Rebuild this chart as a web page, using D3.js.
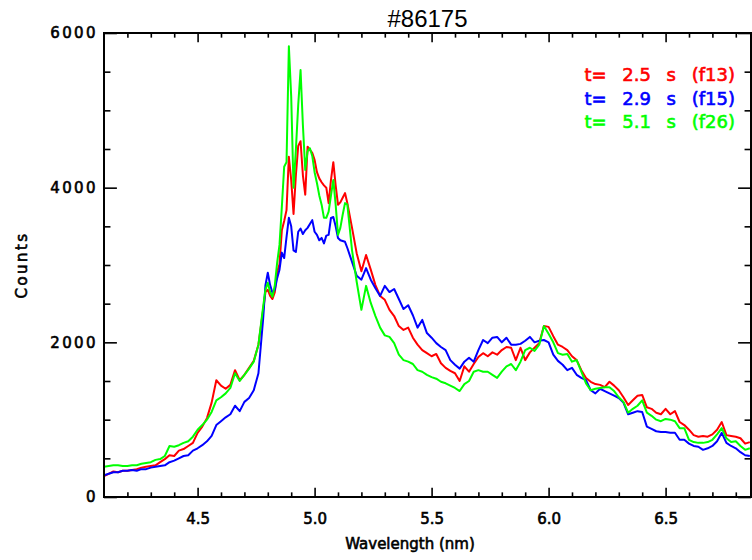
<!DOCTYPE html>
<html>
<head>
<meta charset="utf-8">
<script src="https://cdn.jsdelivr.net/npm/d3@7.9.0/dist/d3.min.js"></script>
<style>
  body { margin: 0; background: #fff; }
  text { fill: #000; }
</style>
</head>
<body>
<svg id="chart" width="752" height="560"></svg>
<script>
// wavelength grid (nm) - finer around the 4.8-5.1 nm peak
const wavelength = [
  4.10, 4.12, 4.14, 4.16, 4.18, 4.20, 4.22, 4.24, 4.26, 4.28,
  4.30, 4.32, 4.34, 4.36, 4.38, 4.40, 4.42, 4.44, 4.46, 4.48,
  4.50, 4.52, 4.54, 4.56, 4.58, 4.60, 4.62, 4.64, 4.66, 4.68,
  4.70, 4.72, 4.74, 4.76, 4.78,
  4.79, 4.80, 4.81, 4.82, 4.83, 4.84, 4.85, 4.86, 4.87, 4.88,
  4.89, 4.90, 4.91, 4.92, 4.93, 4.94, 4.95, 4.96, 4.97, 4.98,
  4.99, 5.00, 5.01, 5.02, 5.03, 5.04, 5.05, 5.06, 5.07, 5.08,
  5.09, 5.10, 5.11, 5.12, 5.13, 5.14,
  5.16, 5.18, 5.20, 5.22, 5.24, 5.26, 5.28, 5.30, 5.32, 5.34,
  5.36, 5.38, 5.40, 5.42, 5.44, 5.46, 5.48, 5.50, 5.52, 5.54,
  5.56, 5.58, 5.60, 5.62, 5.64, 5.66, 5.68, 5.70, 5.72, 5.74,
  5.76, 5.78, 5.80, 5.82, 5.84, 5.86, 5.88, 5.90, 5.92, 5.94,
  5.96, 5.98, 6.00, 6.02, 6.04, 6.06, 6.08, 6.10, 6.12, 6.14,
  6.16, 6.18, 6.20, 6.22, 6.24, 6.26, 6.28, 6.30, 6.32, 6.34,
  6.36, 6.38, 6.40, 6.42, 6.44, 6.46, 6.48, 6.50, 6.52, 6.54,
  6.56, 6.58, 6.60, 6.62, 6.64, 6.66, 6.68, 6.70, 6.72, 6.74,
  6.76, 6.78, 6.80, 6.82, 6.84, 6.86
];

// t = 2.5 s (f13)
const countsF13 = [
  270, 300, 330, 320, 340, 340, 350, 360, 380, 390,
  400, 410, 450, 490, 540, 530, 600, 620, 660, 700,
  830, 910, 1020, 1220, 1510, 1440, 1400, 1450, 1640, 1510,
  1580, 1670, 1760, 1970, 2420,
  2650, 2680, 2600, 2560, 2650, 2910, 3010, 3450, 3570, 3710,
  4400, 4100, 3660, 4160, 4540, 4600, 4160, 3910, 4530, 4490,
  4450, 4360, 4200, 4120, 4070, 4030, 4000, 3800, 4100, 4330,
  4030, 3780, 3810, 3870, 3930, 3800,
  3480, 3150, 2920, 3130, 2940, 2740, 2600, 2550, 2420, 2340,
  2210, 2160, 2190, 2060, 1970, 1900, 1860, 1820, 1850, 1730,
  1670, 1630, 1600, 1500, 1690, 1620, 1720, 1810, 1860, 1820,
  1870, 1840, 1900, 1940, 1930, 1770, 1930, 1770, 1870, 1930,
  1990, 2210, 2200, 2080, 1970, 1940, 1900, 1820, 1770, 1640,
  1540, 1490, 1460, 1450, 1420, 1490, 1440, 1380, 1290, 1190,
  1250, 1310, 1320, 1160, 1140, 1090, 1070, 1140, 1070, 1110,
  970, 930, 870, 800, 780, 790, 780, 810, 870, 970,
  800, 790, 780, 760, 690, 710
];

// t = 2.9 s (f15)
const countsF15 = [
  280, 300, 320, 320, 340, 340, 350, 340, 360, 360,
  380, 390, 400, 410, 450, 470, 500, 530, 540, 600,
  630, 670, 720, 790, 930, 980, 1030, 1070, 1180, 1110,
  1230, 1280, 1380, 1600, 2300,
  2740, 2900, 2740, 2640, 2680, 2830, 2940, 3160, 3090, 3360,
  3610, 3500, 3190, 3170, 3430, 3470, 3400, 3450, 3480, 3530,
  3580, 3430, 3390, 3320, 3350, 3280, 3380, 3390, 3610, 3620,
  3500, 3350, 3320, 3310, 3300, 3220,
  3040, 2860, 2810, 2960, 2810, 2700, 2600, 2730, 2650, 2690,
  2560, 2430, 2480, 2350, 2190, 2290, 2120, 2060, 1990, 1940,
  1900, 1770, 1710, 1660, 1750, 1800, 1750, 1900, 2030, 1990,
  2060, 2070, 2000, 2060, 1970, 1970, 1980, 2020, 2070, 2000,
  2020, 2030, 2000, 1840, 1760, 1710, 1640, 1670, 1580, 1540,
  1510, 1380, 1340, 1400, 1370, 1340, 1310, 1280, 1220, 1070,
  1090, 1110, 1100, 910, 880, 850, 840, 840, 830, 830,
  740, 740, 690, 660, 650, 610, 630, 660, 720, 830,
  700, 660, 630, 580, 540, 530
];

// t = 5.1 s (f26)
const countsF26 = [
  390, 400, 410, 410, 400, 400, 410, 410, 430, 440,
  450, 480, 490, 530, 660, 650, 670, 700, 720, 780,
  870, 930, 1000, 1100, 1250, 1290, 1340, 1410, 1600, 1500,
  1580, 1660, 1750, 1970, 2460,
  2680, 2770, 2650, 2590, 2740, 3030, 3260, 3750, 4270, 4330,
  5830, 5180, 4000, 4490, 5070, 5520, 4810, 4230, 4470, 4510,
  4410, 4200, 4060, 3900, 3780, 3610, 3610, 3690, 3900, 4100,
  3780, 3390, 3480, 3650, 3800, 3780,
  3190, 2780, 2420, 2730, 2510, 2340, 2190, 2090, 2070, 1990,
  1840, 1770, 1750, 1720, 1640, 1620, 1580, 1550, 1530, 1490,
  1470, 1440, 1410, 1370, 1460, 1500, 1620, 1640, 1620, 1620,
  1580, 1540, 1620, 1690, 1720, 1640, 1750, 1900, 1930, 1890,
  1970, 2210, 2110, 2000, 1860, 1840, 1850, 1750, 1770, 1620,
  1470, 1380, 1400, 1410, 1420, 1420, 1370, 1290, 1230, 1090,
  1140, 1180, 1250, 1090, 1050, 1000, 980, 1010, 1000, 980,
  890, 890, 740, 710, 700, 700, 710, 740, 810, 890,
  760, 710, 720, 660, 610, 630
];

const seriesLabels = ['t= 2.5 s (f13)', 't= 2.9 s (f15)', 't= 5.1 s (f26)'];
const seriesColors = ['#ff0000', '#0000ff', '#00ff00'];
const seriesCounts = [countsF13, countsF15, countsF26];

const xTicks = [4.5, 5.0, 5.5, 6.0, 6.5];
const yTicks = [0, 2000, 4000, 6000];

// layout
const plotLeft = 104, plotRight = 751, plotTop = 33, plotBottom = 497;
const svg = d3.select('#chart');

const x = d3.scaleLinear().domain([4.1, 6.865]).range([plotLeft, plotRight]);
const y = d3.scaleLinear().domain([0, 6000]).range([plotBottom, plotTop]);

svg.append('clipPath').attr('id', 'plotclip')
  .append('rect')
  .attr('x', plotLeft).attr('y', plotTop)
  .attr('width', plotRight - plotLeft).attr('height', plotBottom - plotTop);

// curves
let line = d3.line()
  .x((d, i) => x(wavelength[i]))
  .y((d) => y(d));

let curves = svg.append('g').attr('clip-path', 'url(#plotclip)');
seriesCounts.forEach((counts, idx) => {
  curves.append('path')
    .attr('d', line(counts))
    .attr('fill', 'none')
    .attr('stroke', seriesColors[idx])
    .attr('stroke-width', 2)
    .attr('stroke-linejoin', 'round');
});

// text look: plain DejaVu with a thin outline to get the heavier IDL stroke
function labelFont(sel, size, color) {
  sel.style('font-family', '"DejaVu Sans", sans-serif')
    .style('font-size', size + 'px')
    .style('font-weight', 'normal')
    .style('fill', color)
    .style('stroke', color)
    .style('stroke-width', 0.6);
}

// axes (ticks point inward, IDL style)
const xMajorLen = 9.3, yMajorLen = 12.9;
const xMinor = d3.range(4.2, 6.86, 0.1).filter(v => !xTicks.some(t => Math.abs(t - v) < 1e-6));
const yMinor = d3.range(500, 6000, 500).filter(v => v % 2000 !== 0);

function styleAxis(g) {
  g.select('.domain').remove();
  g.selectAll('.tick line').attr('stroke', '#000').attr('stroke-width', 1.6);
  g.selectAll('.tick text').call(labelFont, 15, '#000');
}

svg.append('g').attr('transform', `translate(0,${plotBottom})`)
  .call(d3.axisBottom(x).tickValues(xTicks).tickFormat(d3.format('.1f'))
    .tickSizeInner(-xMajorLen).tickSizeOuter(0).tickPadding(16))
  .call(styleAxis);
svg.append('g').attr('transform', `translate(0,${plotBottom})`)
  .call(d3.axisBottom(x).tickValues(xMinor).tickFormat('')
    .tickSizeInner(-xMajorLen / 2).tickSizeOuter(0))
  .call(styleAxis);
svg.append('g').attr('transform', `translate(0,${plotTop})`)
  .call(d3.axisTop(x).tickValues(xTicks).tickFormat('')
    .tickSizeInner(-xMajorLen).tickSizeOuter(0))
  .call(styleAxis);
svg.append('g').attr('transform', `translate(0,${plotTop})`)
  .call(d3.axisTop(x).tickValues(xMinor).tickFormat('')
    .tickSizeInner(-xMajorLen / 2).tickSizeOuter(0))
  .call(styleAxis);

svg.append('g').attr('transform', `translate(${plotLeft},0)`)
  .call(d3.axisLeft(y).tickValues(yTicks).tickFormat(d3.format('d'))
    .tickSizeInner(-yMajorLen).tickSizeOuter(0).tickPadding(6))
  .call(styleAxis)
  .call(g => g.selectAll('.tick text').style('letter-spacing', '2.4px'));
svg.append('g').attr('transform', `translate(${plotLeft},0)`)
  .call(d3.axisLeft(y).tickValues(yMinor).tickFormat('')
    .tickSizeInner(-yMajorLen / 2).tickSizeOuter(0))
  .call(styleAxis);
svg.append('g').attr('transform', `translate(${plotRight},0)`)
  .call(d3.axisRight(y).tickValues(yTicks).tickFormat('')
    .tickSizeInner(-yMajorLen).tickSizeOuter(0))
  .call(styleAxis);
svg.append('g').attr('transform', `translate(${plotRight},0)`)
  .call(d3.axisRight(y).tickValues(yMinor).tickFormat('')
    .tickSizeInner(-yMajorLen / 2).tickSizeOuter(0))
  .call(styleAxis);

// frame
svg.append('rect')
  .attr('x', plotLeft).attr('y', plotTop)
  .attr('width', plotRight - plotLeft).attr('height', plotBottom - plotTop)
  .attr('fill', 'none').attr('stroke', '#000').attr('stroke-width', 2);

// titles
svg.append('text')
  .attr('x', (plotLeft + plotRight) / 2).attr('y', 27)
  .attr('text-anchor', 'middle')
  .style('font-family', '"Liberation Sans", Arial, sans-serif')
  .style('font-size', '24px')
  .text('#86175');

svg.append('text')
  .attr('x', 410).attr('y', 549)
  .attr('text-anchor', 'middle')
  .call(labelFont, 15, '#000')
  .text('Wavelength (nm)');

svg.append('text')
  .attr('transform', `translate(27,${(plotTop + plotBottom) / 2}) rotate(-90)`)
  .attr('text-anchor', 'middle')
  .call(labelFont, 15, '#000')
  .style('letter-spacing', '2.4px')
  .text('Counts');

// legend
let legend = svg.append('g');
seriesLabels.forEach((label, idx) => {
  legend.append('text')
    .attr('x', 735).attr('y', 81 + idx * 23.5)
    .attr('text-anchor', 'end')
    .call(labelFont, 18, seriesColors[idx])
    .style('word-spacing', '10px')
    .text(label);
});
</script>
</body>
</html>
